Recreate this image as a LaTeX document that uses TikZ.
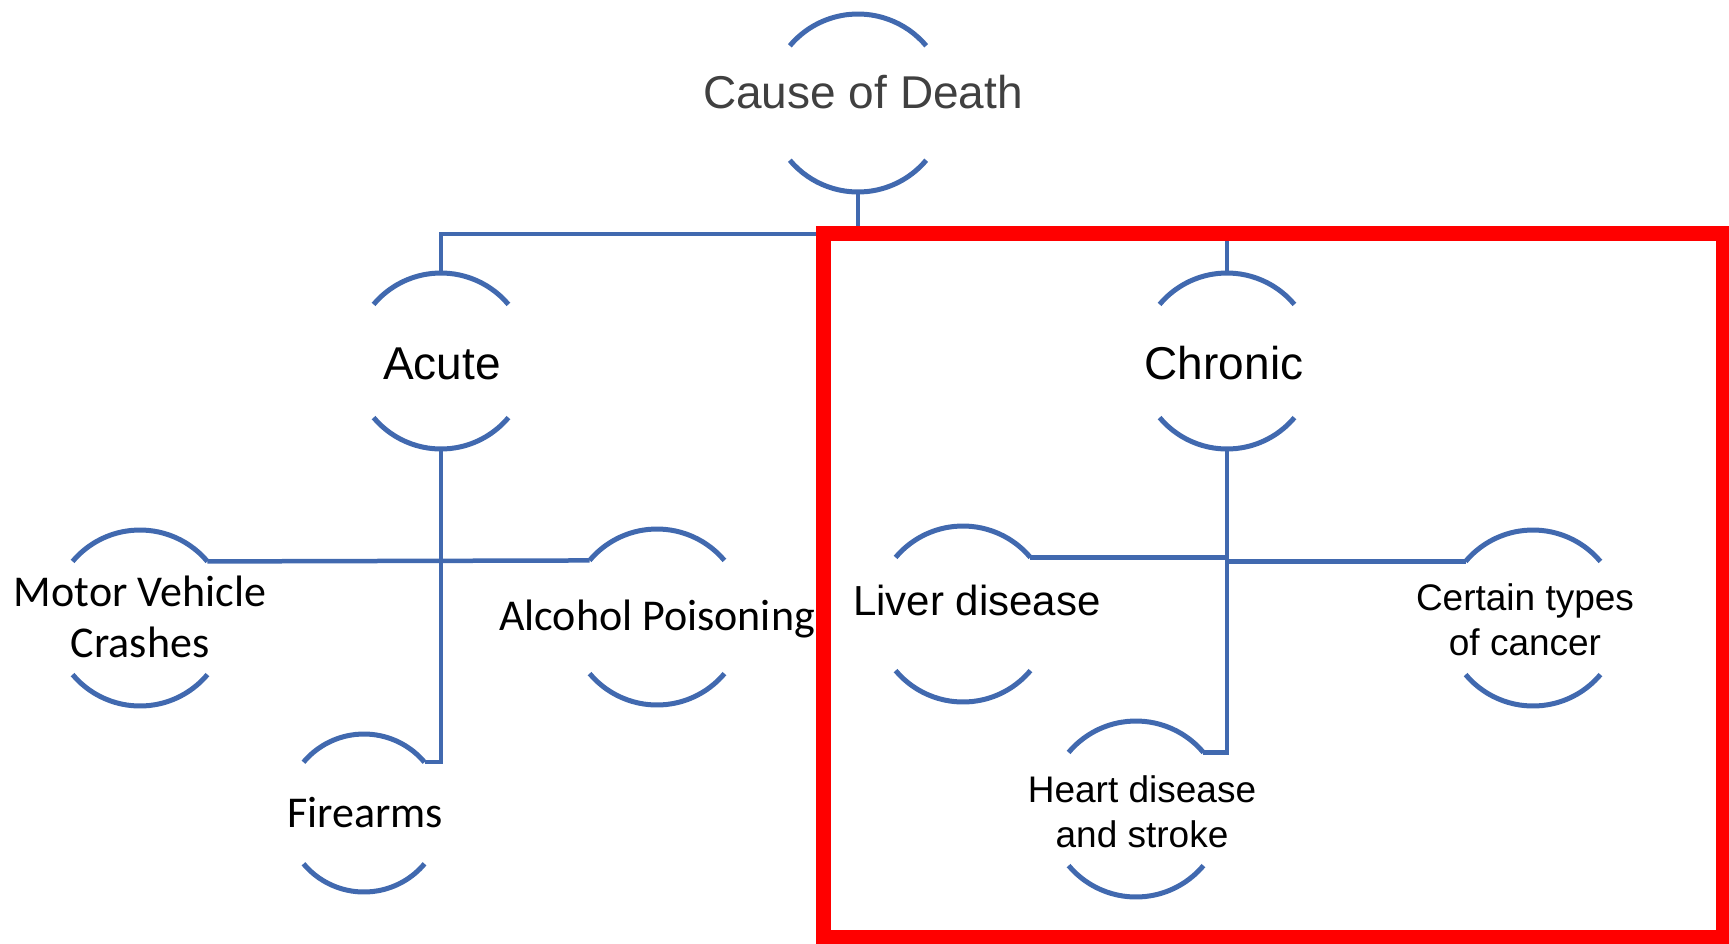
\documentclass[tikz,border=0pt]{standalone}
\usepackage{fontspec}
\setmainfont{Liberation Sans}
\newfontfamily\calib{Carlito}
\definecolor{ringblue}{RGB}{65,105,175}
\definecolor{deathgray}{RGB}{64,64,64}
\newcommand{\bulle}[3]{\node[circle, inner sep=0pt, outer sep=0pt, minimum size=2*#3pt] (#1) at (#2) {};
  \draw[ring] (#1.40) arc[start angle=40, end angle=140, radius=#3pt];
  \draw[ring] (#1.220) arc[start angle=220, end angle=320, radius=#3pt]}

\begin{document}
\begin{tikzpicture}[x=1pt, y=-1pt,
    ring/.style={ringblue, line width=5pt},
    link/.style={ringblue, line width=4.5pt},
    big/.style={font=\fontsize{46}{55}\selectfont},
    small/.style={font=\fontsize{37}{45}\selectfont, align=center},
    cal/.style={font=\calib\fontsize{44}{51}\selectfont, align=center}]
    \useasboundingbox (0,0) rectangle (1729,943);

    \bulle{cause}{858,103}{89};
    \bulle{acute}{441,361}{88};
    \bulle{chronic}{1227,361}{88};
    \bulle{motor}{140,618}{88};
    \bulle{alcohol}{657,617}{88};
    \bulle{fire}{364,813}{79};
    \bulle{liver}{963,614}{88};
    \bulle{heart}{1136,809}{88};
    \bulle{cancer}{1533,618}{88};

    % anchor=base is the last line of a node
    \node[big, anchor=base, text=deathgray] (cause-t) at (863,108) {Cause of Death};
    \node[big, anchor=base] (acute-t) at (442,379) {Acute};
    \node[big, anchor=base] (chronic-t) at (1224,379) {Chronic};
    \node[cal, anchor=base] (motor-t) at (140,657) {Motor Vehicle\\Crashes};
    \node[cal, anchor=base] (alcohol-t) at (657,630) {Alcohol Poisoning};
    \node[cal, anchor=base] (fire-t) at (365,827) {Firearms};
    \node[font=\fontsize{42}{50}\selectfont, anchor=base] (liver-t) at (977,615) {Liver disease};
    \node[small, anchor=base] (heart-t) at (1142,847) {Heart disease\\and stroke};
    \node[small, anchor=base] (cancer-t) at (1525,655) {Certain types\\of cancer};

    \draw[link] (cause.270) -- ++(0,42) -| (acute.90);
    \draw[link] (cause.270) -- ++(0,42) -| (chronic.90);
    \draw[link] (acute.270) |- (fire.40);
    \draw[link] (motor.40) -- (alcohol.140);
    \draw[link] (chronic.270) |- (heart.40);
    \draw[link] (liver.40) -- (liver.40 -| chronic.270);
    \draw[link] (chronic.270 |- cancer.140) -- (cancer.140);

    % highlight box
    \draw[red, line width=15pt] (823,233) rectangle (1723,937);
\end{tikzpicture}
\end{document}
